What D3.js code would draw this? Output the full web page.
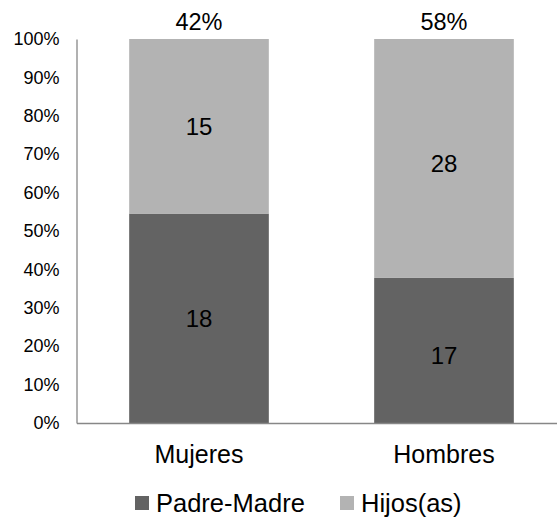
<!DOCTYPE html>
<html>
<head>
<meta charset="utf-8">
<script src="https://cdn.jsdelivr.net/npm/d3@7"></script>
<style>
  body { margin: 0; background: #fff; }
  svg { display: block; font-family: "Liberation Sans", Arial, sans-serif; }
</style>
</head>
<body>
<svg id="chart" width="557" height="522"></svg>
<script>
// data
const categories = ["Mujeres", "Hombres"];
const seriesNames = ["Padre-Madre", "Hijos(as)"];
const padreMadre = [18, 17];
const hijos = [15, 28];
const totalLabels = ["42%", "58%"];
const yTicks = [0, 0.1, 0.2, 0.3, 0.4, 0.5, 0.6, 0.7, 0.8, 0.9, 1];
const colors = ["#636363", "#b3b3b3"];

const svg = d3.select("#chart");
const plot = { left: 76.5, right: 566.5, top: 39, bottom: 423 };
// the labels in the second bar sit a little below the segment middle
const labelShift = { "Mujeres": 0, "Hombres": 5 };

const x = d3.scaleBand()
    .domain(categories)
    .range([plot.left, plot.right])
    .paddingInner(0.43)
    .paddingOuter(0.215);

const y = d3.scaleLinear()
    .domain([0, 1])
    .range([plot.bottom, plot.top]);

// stacked shares
const rows = categories.map((c, i) => ({ cat: c, "Padre-Madre": padreMadre[i], "Hijos(as)": hijos[i] }));
const shares = rows.map(r => {
    const t = r["Padre-Madre"] + r["Hijos(as)"];
    return { cat: r.cat, "Padre-Madre": r["Padre-Madre"] / t, "Hijos(as)": r["Hijos(as)"] / t };
});
const stack = d3.stack().keys(seriesNames)(shares);

stack.forEach((layer, si) => {
    const g = svg.append("g");
    g.selectAll("rect")
        .data(layer)
        .enter()
        .append("rect")
        .attr("x", d => x(d.data.cat))
        .attr("width", x.bandwidth())
        .attr("y", d => y(d[1]))
        .attr("height", d => y(d[0]) - y(d[1]))
        .attr("fill", colors[si]);

    g.selectAll("text")
        .data(layer)
        .enter()
        .append("text")
        .attr("x", d => x(d.data.cat) + x.bandwidth() / 2)
        .attr("y", d => (y(d[0]) + y(d[1])) / 2 + labelShift[d.data.cat])
        .attr("dy", "0.35em")
        .attr("text-anchor", "middle")
        .style("font-size", "24px")
        .style("fill", "#000")
        .text((d, i) => si === 0 ? padreMadre[i] : hijos[i]);
});

// y axis
const yAxis = svg.append("g")
    .attr("transform", `translate(${plot.left},0)`)
    .call(d3.axisLeft(y).tickValues(yTicks).tickSize(0).tickPadding(17).tickFormat(d3.format(".0%")));
yAxis.select(".domain").attr("stroke", "#878787").attr("stroke-width", 1.3);
yAxis.selectAll("text").style("font-size", "18px").style("fill", "#000")
    .style("font-family", "'Liberation Sans', Arial, sans-serif");

// x axis
const xAxis = svg.append("g")
    .attr("transform", `translate(0,${plot.bottom})`)
    .call(d3.axisBottom(x).tickSize(0).tickPadding(22));
xAxis.select(".domain").attr("stroke", "#878787").attr("stroke-width", 1.3);
xAxis.selectAll("text").style("font-size", "25px").style("fill", "#000")
    .style("font-family", "'Liberation Sans', Arial, sans-serif");

// totals on top
svg.append("g").selectAll("text")
    .data(categories)
    .enter()
    .append("text")
    .attr("x", d => x(d) + x.bandwidth() / 2)
    .attr("y", 22)
    .attr("dy", "0.35em")
    .attr("text-anchor", "middle")
    .style("font-size", "23.5px")
    .text((d, i) => totalLabels[i]);

// legend
const legendX = [135, 340];
const legend = svg.append("g");
seriesNames.forEach((name, i) => {
    const row = legend.append("g").attr("transform", `translate(${legendX[i]},503)`);
    row.append("rect")
        .attr("x", 0).attr("y", -7)
        .attr("width", 14).attr("height", 14)
        .attr("fill", colors[i]);
    row.append("text")
        .attr("x", 21)
        .attr("dy", "0.35em")
        .style("font-size", "25.5px")
        .text(name);
});
</script>
</body>
</html>
